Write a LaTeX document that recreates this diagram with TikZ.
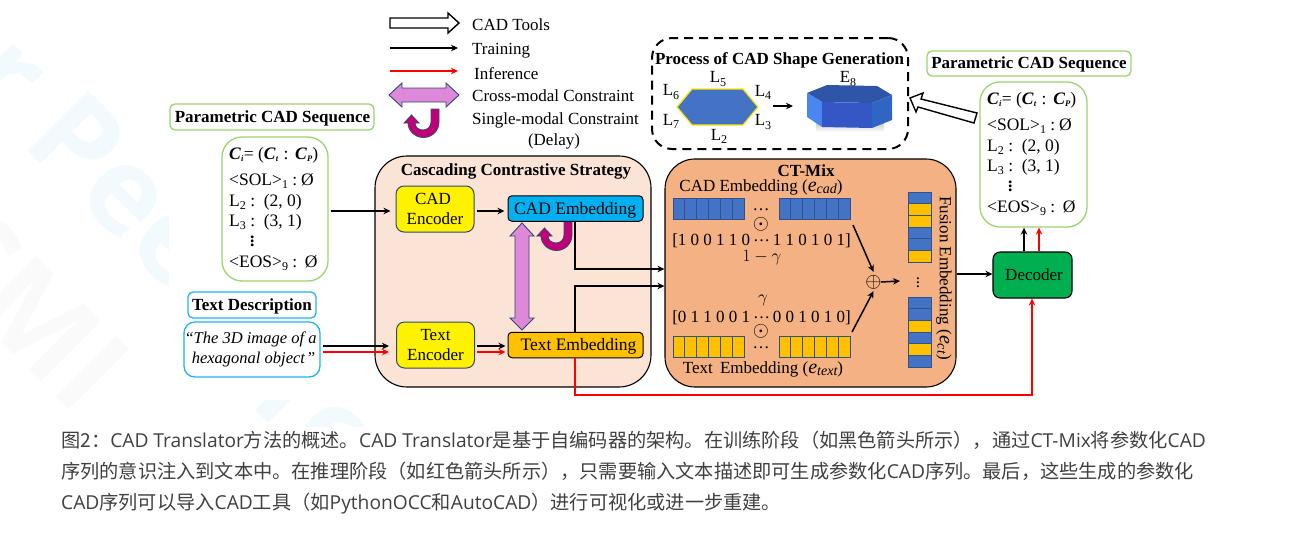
\documentclass[tikz,border=0pt]{standalone}
\usepackage{fontspec}
\usepackage{amsmath}
\setmainfont{Liberation Serif}
\newfontfamily\cjk{Noto Sans CJK SC}
\newfontfamily\capfont{Open Sans}
\newfontfamily\wmfont{Open Sans}
\usetikzlibrary{arrows.meta,calc}
\definecolor{grn}{HTML}{9BD56B}
\definecolor{cyanb}{HTML}{1FB4EE}
\definecolor{panelA}{HTML}{FBE3D6}
\definecolor{panelB}{HTML}{F4B183}
\definecolor{navy}{HTML}{2F4A6E}
\definecolor{plum}{HTML}{DD88D8}
\definecolor{mag}{HTML}{C00078}
\definecolor{cellb}{HTML}{4472C4}
\definecolor{celly}{HTML}{FFC000}
\definecolor{celll}{HTML}{2F528F}
\definecolor{captxt}{HTML}{404040}
\definecolor{wmblue}{HTML}{F3FAFE}
\definecolor{wmgrey}{HTML}{FAFAFA}
\newcommand{\fs}[1]{\fontsize{#1}{#1}\selectfont}
\newcommand{\sbs}[1]{\raisebox{-0.3ex}{\fs{8.5}\bfseries\itshape #1}}
\newcommand{\low}[1]{\raisebox{-0.4ex}{\fs{12}#1}}
\newcommand{\esub}[2]{{\fs{20}\itshape #1}\raisebox{-0.3ex}{\fs{14}\itshape #2}}
\newcommand{\tdots}{\raisebox{.28em}{…}}
\newcommand{\zh}[1]{{\cjk #1}}
\newcommand{\seqlines}[3]{%
  \node[seqt] (#1c) at (#2,#3+5) {\textbf{\textit{C}}\sbs{i}\hspace{.5pt}= (\textbf{\textit{C}}\sbs{t}\hspace{1pt} : \hspace{1pt}\textbf{\textit{C}}\sbs{P})};
  \node[seqt] (#1s) at (#2,#3+31) {<SOL>\low{1} : \hspace{-2pt}Ø};
  \node[seqt] (#1a) at (#2,#3+52) {L\low{2} :\, (2, 0)};
  \node[seqt] (#1b) at (#2,#3+72) {L\low{3} :\, (3, 1)};
  \node[seqt,font=\fs{17.5}\bfseries] (#1d) at (#2+21,#3+92) {$\vdots$};
  \node[seqt] (#1e) at (#2,#3+113) {<EOS>\low{9} :\, \hspace{-1pt}Ø};
}
\newcommand{\uarrow}[2]{%
  \begin{scope}[shift={(#1,#2)}]
  \draw[maguarrow] (431,109) -- (439,109) -- (439,122)
    .. controls (439,130.6) and (432.1,137.5) .. (423.5,137.5)
    .. controls (414.9,137.5) and (408,130.6) .. (408,123)
    -- (404,123) -- (411.5,115) -- (419,123) -- (415,123)
    .. controls (415,127) and (418.5,130) .. (423,130)
    .. controls (427.5,130) and (431,126.5) .. (431,122) -- cycle;
  \end{scope}
}
\newcommand{\hstrip}[3]{% x, y, colour
  \foreach \i in {0,...,5}{
    \draw[cellstyle, fill=#3] ({#1+\i*11.85},#2) rectangle ({#1+(\i+1)*11.85},#2+21);
  }
}
\tikzset{
  blk/.style={line width=1.5pt,black,-{Stealth[length=7pt,width=6.5pt]}},
  redl/.style={line width=1.5pt,red,-{Stealth[length=7pt,width=6.5pt]}},
  grnbox/.style={draw=grn,line width=1.3pt,fill=white,inner sep=0pt},
  cyanbox/.style={draw=cyanb,line width=1.3pt,fill=white,inner sep=0pt},
  lab/.style={font=\fs{17}\bfseries,inner sep=0pt},
  seqt/.style={font=\fs{17.5},anchor=base west,inner sep=0pt},
  legt/.style={font=\fs{17},anchor=west,inner sep=0pt},
  plain/.style={font=\fs{17},inner sep=0pt},
  bigm/.style={font=\fs{21},inner sep=0pt},
  gam/.style={font=\fs{17.5},inner sep=0pt},
  encbox/.style={draw=navy,line width=1pt,fill=yellow,rounded corners=8pt,minimum width=78pt,minimum height=46pt,inner sep=0pt},
  embbox/.style={draw=black,line width=1pt,rounded corners=4pt,minimum width=135pt,minimum height=25.5pt,inner sep=0pt},
  cellstyle/.style={draw=celll,line width=.9pt},
  maguarrow/.style={draw=navy,line width=.8pt,fill=mag},
  plumarrow/.style={draw=navy,line width=.9pt,fill=plum},
  hollow/.style={draw=black,line width=1.4pt,fill=white,line join=miter},
  capline/.style={font=\capfont\fs{19.2},text=captxt,anchor=base west,inner sep=0pt},
  wm/.style={font=\wmfont\bfseries\fs{120},rotate=-45,anchor=west,inner sep=0pt},
}
\begin{document}
\begin{tikzpicture}[x=1pt,y=-1pt]
\useasboundingbox (0,0) rectangle (1289,542);
% faint page watermark
\begin{scope}
\clip (0,0) -- (168,0) -- (168,400) -- (400,400) -- (400,426) -- (0,426) -- cycle;
\node[wm,text=wmblue] (wm1) at (-10,53) {r Pee};
\node[wm,text=wmgrey] (wm2) at (-55,225) {CMI};
\node[wm,text=wmblue] (wm3) at (265,360) {Ye};
\end{scope}
% legend
\draw[hollow] (390,18) -- (448,18) -- (448,13) -- (459,23) -- (448,33) -- (448,28) -- (390,28) -- cycle;
\node[legt] (lg1) at (472,24.5) {CAD Tools};
\coordinate (ls2) at (390,48); \coordinate (le2) at (458,48);
\draw[blk] (ls2) -- (le2);
\node[legt] (lg2) at (472,50.5) {Training};
\coordinate (ls3) at (390,71); \coordinate (le3) at (458,71);
\draw[redl] (ls3) -- (le3);
\node[legt] (lg3) at (474,73.5) {Inference};
\draw[plumarrow] (389,95) -- (402,83) -- (402,88) -- (446,88) -- (446,83) -- (459,95) -- (446,107) -- (446,102) -- (402,102) -- (402,107) -- cycle;
\node[legt] (lg4) at (472,95.5) {Cross-modal Constraint};
\uarrow{0}{0}
\node[legt] (lg5) at (472,120.5) {Single-modal Constraint};
\node[plain] (lg6) at (554,141) {(Delay)};
% process box
\node[draw=black,line width=2pt,dash pattern=on 9pt off 6pt,rounded corners=20pt,minimum width=256pt,minimum height=111pt,inner sep=0pt] (proc) at (780,93.5) {};
\node[lab] (proct) at (779.5,60) {Process of CAD Shape Generation};
\draw[draw=yellow!90!orange,line width=1.2pt,fill=cellb] (677,107) -- (692,89) -- (743,89) -- (758,107) -- (743,125) -- (692,125) -- cycle;
\node[plain] (l5) at (718,79) {L\low{5}};
\node[plain] (l6) at (671,92) {L\low{6}};
\node[plain] (l4) at (763,92) {L\low{4}};
\node[plain] (l7) at (671,121) {L\low{7}};
\node[plain] (l3) at (763,122) {L\low{3}};
\node[plain] (l2) at (719,136) {L\low{2}};
\coordinate (pa) at (773,106); \coordinate (pb) at (793,106);
\draw[blk] (pa) -- (pb);
\node[plain] (e8) at (848,79) {E\low{8}};
\shade[top color=black!22,bottom color=white] (816,122) rectangle (884,132);
\fill[fill={rgb,255:red,47;green,85;blue,168}] (807,93) -- (827,85) -- (877,86) -- (892,95) -- (872,103) -- (822,102) -- cycle;
\fill[fill={rgb,255:red,74;green,134;blue,240}] (807,93) -- (822,102) -- (822,127) -- (807,117) -- cycle;
\fill[fill={rgb,255:red,53;green,87;blue,198}] (822,102) -- (872,103) -- (872,128) -- (822,127) -- cycle;
\fill[fill={rgb,255:red,47;green,102;blue,196}] (872,103) -- (892,95) -- (892,120) -- (872,128) -- cycle;
% left column
\node[grnbox,rounded corners=5pt,minimum width=204pt,minimum height=26pt] (labL) at (272,117) {};
\node[lab] (labLt) at (272.5,118.5) {Parametric CAD Sequence};
\node[grnbox,rounded corners=20pt,minimum width=106pt,minimum height=144pt] (seqL) at (275,209) {};
\seqlines{sl}{229}{154}
\node[cyanbox,rounded corners=5pt,minimum width=128pt,minimum height=26pt] (labT) at (252,305) {};
\node[lab] (labTt) at (252,306.5) {Text Description};
\node[cyanbox,rounded corners=11pt,minimum width=136pt,minimum height=55pt,align=center,font=\fs{16.5}\itshape] (quote) at (252,349.5) {\hspace{-3pt}“The 3D image of a\\[4pt]\hspace{3pt}hexagonal object\hspace{1pt}”};
% cascading panel
\node[draw=black,line width=1.1pt,fill=panelA,rounded corners=32pt,minimum width=276pt,minimum height=231pt,inner sep=0pt] (casc) at (513,271.5) {};
\node[lab] (casct) at (516,171) {Cascading Contrastive Strategy};
\node[encbox,align=center,font=\fs{17}] (cadenc) at (435,209) {\hspace{-4pt}CAD\\[3pt]Encoder};
\node[encbox,align=center,font=\fs{17}] (txtenc) at (435.5,345) {Text\\[3pt]Encoder};
\node[embbox,fill={rgb,255:red,0;green,176;blue,240}] (cademb) at (575.5,208.5) {};
\node[font=\fs{17.5},inner sep=0pt] (cadembt) at (575,210) {CAD Embedding};
\node[embbox,fill=celly] (txtemb) at (575.5,345) {};
\node[font=\fs{17.5},inner sep=0pt] (txtembt) at (578.5,346.5) {Text Embedding};
\draw[plumarrow] (522,223) -- (534,236) -- (529,236) -- (529,318) -- (534,318) -- (522,330) -- (510,318) -- (515,318) -- (515,236) -- (510,236) -- cycle;
\uarrow{133}{113}
% CT-Mix panel
\node[draw=black,line width=1.1pt,fill=panelB,rounded corners=30pt,minimum width=291pt,minimum height=228pt,inner sep=0pt] (ctmix) at (810.5,273) {};
\node[lab] (ctt) at (806,170.5) {CT-Mix};
\node[plain] (ctcad) at (761,187) {CAD Embedding (\esub{e}{cad})};
\hstrip{673}{198}{cellb}
\hstrip{779}{198}{cellb}
\node[plain] (cd1) at (761,212) {\tdots};
\node[bigm] (od1) at (761,224.5) {$\odot$};
\node[plain] (m1) at (761.5,241) {[1 0 0 1 1 0\,\tdots\,1 1 0 1 0 1]};
\node[gam] (g1) at (762,258) {$1-\gamma$};
\node[gam] (g2) at (763,300) {$\gamma$};
\node[plain] (m2) at (761.5,318) {[0 1 1 0 0 1\,\tdots\,0 0 1 0 1 0]};
\node[bigm] (od2) at (761,331.5) {$\odot$};
\hstrip{673}{336}{celly}
\hstrip{779}{336}{celly}
\node[plain] (cd2) at (761,349.5) {\tdots};
\node[plain] (cttxt) at (763,369) {Text\, Embedding (\esub{e}{text})};
\node[bigm] (oplus) at (873.5,282) {$\oplus$};
\coordinate (mixa) at (853,225); \coordinate (mixb) at (852,332); \coordinate (mixc) at (900,281);
\draw[blk] (mixa) -- ([yshift=3pt]oplus.north);
\draw[blk] (mixb) -- ([yshift=-2pt]oplus.south);
\draw[blk] ([xshift=-1pt]oplus.east) -- (mixc);
\foreach \n/\c in {0/cellb,1/celly,2/celly,3/cellb,4/cellb,5/celly}{
  \draw[cellstyle,fill=\c] (908,{192+\n*11.67}) rectangle (931,{192+(\n+1)*11.67});
}
\foreach \n/\c in {0/cellb,1/cellb,2/celly,3/cellb,4/celly,5/cellb}{
  \draw[cellstyle,fill=\c] (908,{297+\n*11.67}) rectangle (931,{297+(\n+1)*11.67});
}
\node[plain] (fd) at (918,280) {$\vdots$};
\node[plain,rotate=-90] (fus) at (944,278) {Fusion Embedding (\esub{e}{ct})};
% decoder and right column
\node[draw=black,line width=1.1pt,fill={rgb,255:red,0;green,176;blue,80},rounded corners=7pt,minimum width=79pt,minimum height=46pt,inner sep=0pt,font=\fs{17}] (dec) at (1032.5,275) {\hspace{3pt}\raisebox{-1pt}{Decoder}};
\node[grnbox,rounded corners=5pt,minimum width=204pt,minimum height=25pt] (labR) at (1029,63.5) {};
\node[lab] (labRt) at (1029,64.5) {Parametric CAD Sequence};
\node[grnbox,rounded corners=20pt,minimum width=107pt,minimum height=145pt] (seqR) at (1033.5,154.5) {};
\seqlines{sr}{987}{99}
\draw[hollow] (910,98) -- (923,93) -- (921,99) -- (977,113) -- (974,123) -- (918,107) -- (916,112) -- cycle;
% connectors
\coordinate (yA) at (0,211); \coordinate (yB) at (0,346); \coordinate (yC) at (0,352);
\coordinate (yD) at (0,269); \coordinate (yE) at (0,286); \coordinate (yF) at (0,395); \coordinate (yG) at (0,274);
\coordinate (xA) at (575,0); \coordinate (xB) at (1032,0); \coordinate (xC) at (1024,0); \coordinate (xD) at (1039,0);
\draw[blk] ([xshift=2pt]seqL.east |- yA) -- ([xshift=-5pt]cadenc.west |- yA);
\draw[blk] ([xshift=2pt]cadenc.east |- yA) -- ([xshift=-3pt]cademb.west |- yA);
\draw[blk] ([xshift=2pt]quote.east |- yB) -- ([xshift=-7pt]txtenc.west |- yB);
\draw[redl] ([xshift=2pt]quote.east |- yC) -- ([xshift=-7pt]txtenc.west |- yC);
\draw[blk] ([xshift=2pt]txtenc.east |- yB) -- ([xshift=-2pt]txtemb.west |- yB);
\draw[redl] ([xshift=2pt]txtenc.east |- yC) -- ([xshift=-2pt]txtemb.west |- yC);
\draw[blk] (xA |- cademb.south) -- (xA |- yD) -- (ctmix.west |- yD);
\draw[blk] (xA |- txtemb.north) -- (xA |- yE) -- (ctmix.west |- yE);
\draw[redl] (xA |- txtemb.south) -- (xA |- yF) -- (xB |- yF) -- (xB |- dec.south);
\draw[blk] (ctmix.east |- yG) -- (dec.west |- yG);
\draw[blk] (xC |- dec.north) -- (xC |- seqR.south);
\draw[redl] (xD |- dec.north) -- (xD |- seqR.south);
% caption
\node[capline] (cap1) at (61,447) {\zh{图2：}CAD Translator\zh{方法的概述。}CAD Translator\zh{是基于自编码器的架构。在训练阶段（如黑色箭头所示），通过}CT-Mix\zh{将参数化}CAD};
\node[capline] (cap2) at (61,478) {\zh{序列的意识注入到文本中。在推理阶段（如红色箭头所示），只需要输入文本描述即可生成参数化}CAD\zh{序列。最后，这些生成的参数化}};
\node[capline] (cap3) at (61,509) {CAD\zh{序列可以导入}CAD\zh{工具（如}PythonOCC\zh{和}AutoCAD\zh{）进行可视化或进一步重建。}};
\end{tikzpicture}
\end{document}
